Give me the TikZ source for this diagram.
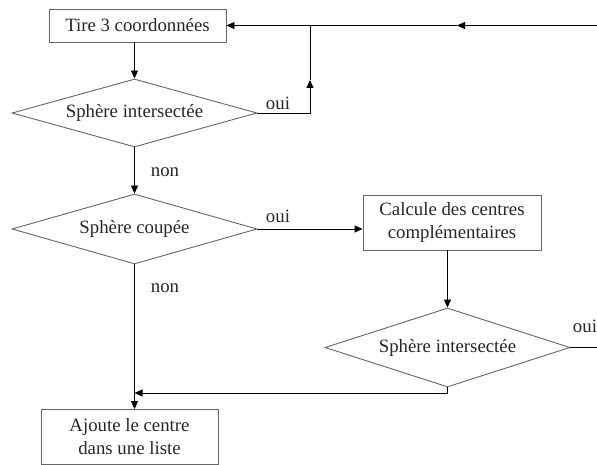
\documentclass[tikz,border=0pt]{standalone}
\usepackage{fontspec}
\setmainfont{Liberation Serif}
\usetikzlibrary{shapes.geometric,arrows.meta}
\begin{document}
\begin{tikzpicture}[x=1pt,y=-1pt,
  every node/.style={font=\fontsize{18.8}{23}\selectfont, text=black!85},
  procbox/.style={draw=black!60, line width=0.9pt, rectangle, inner sep=0pt, align=center},
  decision/.style={draw=black!60, line width=0.9pt, diamond, inner sep=0pt, shape aspect=3.5},
  conn/.style={draw=black, line width=0.9pt},
  arr/.style={conn, -{Triangle[length=8pt,width=7pt]}},
  lbl/.style={inner sep=0pt}]
\useasboundingbox (0,0) rectangle (597,465);
% nodes
\node[procbox, minimum width=177pt, minimum height=33pt] (b1) at (137.5,25.5) {Tire 3 coordonnées};
\node[decision, minimum width=245pt, minimum height=68pt] (d1) at (134.5,113) {Sphère intersectée};
\node[decision, minimum width=245pt, minimum height=70pt] (d2) at (134.5,229) {Sphère coupée};
\node[procbox, minimum width=178pt, minimum height=55pt] (b2) at (452,222.5) {Calcule des centres\\complémentaires};
\node[decision, minimum width=245pt, minimum height=79pt, shape aspect=3.1] (d3) at (447.5,347.5) {Sphère intersectée};
\node[procbox, minimum width=177pt, minimum height=55pt] (b3) at (129.5,437) {Ajoute le centre\\dans une liste};
% labels
\node[lbl] (l1) at (278,103) {oui};
\node[lbl] (l2) at (165,172) {non};
\node[lbl] (l3) at (278,216) {oui};
\node[lbl] (l4) at (165,288) {non};
\node[lbl] (l5) at (585,326) {oui};
% coordinates
\coordinate (j1) at (310,25.5);
\coordinate (m1) at (310,80);
\coordinate (rt) at (597,25.5);
\coordinate (m2) at (457,25.5);
\coordinate (re) at (597,347.5);
\coordinate (j3) at (134.5,393);
% connectors
\draw[arr] (d1.north |- b1.south) -- (d1.north);
\draw[arr] (d1.east) -| (m1);
\draw[conn] (m1) -- (j1);
\draw[arr] (j1) -- (b1.east);
\draw[arr] (rt) -- (m2);
\draw[conn] (m2) -- (j1);
\draw[arr] (d1.south) -- (d2.north);
\draw[arr] (d2.east) -- (d2.east -| b2.west);
\draw[arr] (d3.north |- b2.south) -- (d3.north);
\draw[conn] (d3.east) -- (re);
\draw[arr] (d3.south) |- (j3);
\draw[arr] (d2.south) -- (d2.south |- b3.north);
\end{tikzpicture}
\end{document}
